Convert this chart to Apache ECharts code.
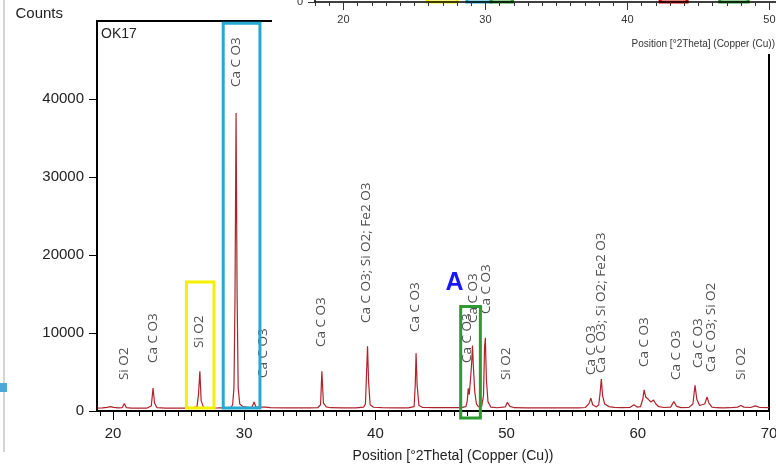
<!DOCTYPE html>
<html><head><meta charset="utf-8">
<script src="https://cdn.jsdelivr.net/npm/echarts@6/dist/echarts.min.js"></script>
<style>html,body{margin:0;padding:0;background:#fff}#c{width:776px;height:465px}</style>
</head><body><div id="c"></div>
<script>
// ---- pattern data (2Theta, Counts) ----
const twoTheta = [18.8,19.2,19.55,19.8,20.05,20.4,20.7,20.86,21.02,21.4,22.0,22.6,22.92,23.05,23.17,23.35,24.0,25.0,26.0,26.4,26.52,26.62,26.72,26.9,27.5,28.0,28.6,29.0,29.12,29.22,29.3,29.38,29.46,29.54,29.66,29.9,30.3,30.6,30.75,30.9,31.3,31.42,31.6,32.0,33.0,34.0,35.0,35.6,35.82,35.92,36.04,36.25,36.6,37.5,38.5,39.1,39.24,39.32,39.4,39.48,39.6,39.85,40.5,41.5,42.5,42.95,43.04,43.1,43.18,43.32,43.6,44.5,45.5,46.5,46.9,47.0,47.08,47.15,47.26,47.33,47.4,47.47,47.57,47.7,47.85,48.1,48.24,48.32,48.38,48.46,48.58,48.8,49.3,49.9,50.05,50.25,50.6,51.5,52.5,53.5,54.5,55.5,56.0,56.28,56.42,56.56,56.85,57.02,57.12,57.22,57.32,57.48,57.8,58.2,58.8,59.4,59.7,59.95,60.2,60.38,60.48,60.6,60.8,61.0,61.2,61.38,61.6,62.0,62.5,62.75,62.95,63.3,63.9,64.2,64.36,64.5,64.7,65.1,65.28,65.42,65.65,66.0,66.5,67.0,67.6,67.85,68.1,68.6,68.95,69.3,70.0];
const counts = [380,400,470,560,460,390,420,950,430,380,370,380,650,2950,1000,430,380,370,380,520,2200,5100,1300,460,380,390,410,470,800,3000,14600,38200,14600,3000,900,560,460,480,1150,520,500,750,500,430,400,390,400,420,800,5100,1000,520,420,400,410,500,900,4600,8300,3800,800,480,420,400,410,550,3500,7400,3300,700,450,420,420,440,560,1300,2900,2100,4300,6000,8400,5600,2500,900,560,600,2000,8200,9400,4000,1200,500,420,520,1100,600,420,400,400,390,400,400,450,950,1650,800,520,800,2200,4100,1900,900,560,460,420,450,800,500,550,1500,2700,1800,1500,1150,1400,900,550,450,500,1200,600,430,460,900,3300,1500,700,900,1800,1000,500,420,400,420,500,700,500,450,650,450,420];

// ---- phase labels ----
const peakLabelText = ["Si O2","Ca C O3","Si O2","Ca C O3","Ca C O3","Ca C O3","Ca C O3; Si O2; Fe2 O3","Ca C O3","Ca C O3","Ca C O3","Ca C O3","Si O2","Ca C O3","Ca C O3; Si O2; Fe2 O3","Ca C O3","Ca C O3","Ca C O3","Ca C O3; Si O2","Si O2"];
const peakLabelTheta = [20.84,23.04,26.55,29.36,31.45,35.83,39.33,43.06,47.02,47.47,48.46,49.98,56.45,57.21,60.49,62.92,64.6,65.59,67.87];
const peakLabelCounts = [3970,6150,8080,41540,4230,8200,11280,10130,6150,11280,12440,3970,4600,4870,5640,3970,5510,5000,3970];

// ---- axis ticks ----
const xMajorTicks = [20,30,40,50,60,70];
const xMinorTicks = [19,20,21,22,23,24,25,26,27,28,29,30,31,32,33,34,35,36,37,38,39,40,41,42,43,44,45,46,47,48,49,50,51,52,53,54,55,56,57,58,59,60,61,62,63,64,65,66,67,68,69,70];
const insetMajorTicks = [20,30,40,50];
const insetMinorTicks = [18,19,20,21,22,23,24,25,26,27,28,29,30,31,32,33,34,35,36,37,38,39,40,41,42,43,44,45,46,47,48,49,50];

// ---- highlight boxes (main chart) ----
const boxTheta0 = [25.6, 28.4, 46.5];
const boxTheta1 = [27.7, 31.2, 48.0];
const boxCounts0 = [380, 380, -900];
const boxCounts1 = [16550, 49700, 13400];
const boxColors = ['#f5f000', '#25a9d3', '#2e9a32'];
// ---- highlight boxes (overview strip at top) ----
const insetBoxTheta0 = [25.9, 28.7, 30.4, 42.3, 46.5];
const insetBoxTheta1 = [28.0, 30.4, 31.9, 44.2, 48.5];
const insetBoxColors = ['#f5f000', '#25a9d3', '#2e9a32', '#d60000', '#2e9a32'];

const markerA = {text: 'A', theta: 46.03, counts: 16400};

const AX = 'Liberation Sans, Arial, sans-serif';
const lineData = twoTheta.map((t, i) => [t, counts[i]]);
const labelData = peakLabelTheta.map((t, i) => [t, peakLabelCounts[i]]);
const boxData = boxTheta0.map((t, i) => [t, boxTheta1[i], boxCounts0[i], boxCounts1[i]]);
const insetBoxData = insetBoxTheta0.map((t, i) => [t, insetBoxTheta1[i], 0, 40000]);

function boxRenderer(colors) {
  return function (params, api) {
    const p0 = api.coord([api.value(0), api.value(3)]);
    const p1 = api.coord([api.value(1), api.value(2)]);
    return {type: 'rect', shape: {x: p0[0], y: p0[1], width: p1[0] - p0[0], height: p1[1] - p0[1]},
      style: {fill: 'none', stroke: colors[params.dataIndex], lineWidth: 3}};
  };
}
const plain = v => String(v);

const chart = echarts.init(document.getElementById('c'), null, {renderer: 'canvas'});
chart.setOption({
  animation: false,
  backgroundColor: '#fff',
  title: {text: 'OK17', left: 96, top: 22, textStyle: {fontFamily: AX, fontSize: 14, fontWeight: 'normal', color: '#222'}},
  grid: [
    {left: 97, right: 7, top: 21, bottom: 54, show: true, borderColor: '#000', borderWidth: 2, backgroundColor: 'transparent', outerBoundsMode: 'none', containLabel: false},
    {left: 315, right: 0, top: -100, height: 102, outerBoundsMode: 'none', containLabel: false}
  ],
  xAxis: [
    {type: 'value', gridIndex: 0, position: 'bottom', min: 18.78, max: 70,
     name: 'Position [°2Theta] (Copper (Cu))', nameLocation: 'middle', nameGap: 38,
     nameTextStyle: {fontFamily: AX, fontSize: 14, color: '#222', padding: [0, 0, 0, 40]},
     axisLine: {lineStyle: {color: '#000', width: 2}},
     axisTick: {customValues: xMinorTicks, length: 5, lineStyle: {color: '#000'}},
     axisLabel: {customValues: xMajorTicks, formatter: plain, fontFamily: AX, fontSize: 15, color: '#222', margin: 15},
     splitLine: {show: false}},
    {type: 'value', gridIndex: 0, position: 'bottom', min: 18.78, max: 70,
     axisLine: {show: false},
     axisTick: {customValues: xMajorTicks, length: 9, lineStyle: {color: '#000'}},
     axisLabel: {show: false}, splitLine: {show: false}},
    {type: 'value', gridIndex: 1, position: 'bottom', min: 18, max: 50.46, z: 60,
     axisLine: {lineStyle: {color: '#000', width: 1.5}},
     axisTick: {customValues: insetMinorTicks, length: 4, lineStyle: {color: '#333'}},
     axisLabel: {customValues: insetMajorTicks, formatter: plain, fontFamily: AX, fontSize: 11, color: '#333', margin: 12},
     splitLine: {show: false}},
    {type: 'value', gridIndex: 1, position: 'bottom', min: 18, max: 50.46, z: 60,
     axisLine: {show: false},
     axisTick: {customValues: insetMajorTicks, length: 8, lineStyle: {color: '#333'}},
     axisLabel: {show: false}, splitLine: {show: false}}
  ],
  yAxis: [
    {type: 'value', gridIndex: 0, position: 'left', min: 0, max: 50000, interval: 10000,
     name: 'Counts', nameLocation: 'end', nameGap: 7,
     nameTextStyle: {fontFamily: AX, fontSize: 15, color: '#222', align: 'right', verticalAlign: 'middle', padding: [0, 34, 0, 0]},
     axisLine: {lineStyle: {color: '#000', width: 2}},
     axisTick: {length: 8, lineStyle: {color: '#000'}},
     axisLabel: {showMaxLabel: false, formatter: plain, fontFamily: AX, fontSize: 15, color: '#222', margin: 13},
     splitLine: {show: false}},
    {type: 'value', gridIndex: 1, position: 'left', min: 0, max: 50000, interval: 10000, z: 60,
     axisLine: {lineStyle: {color: '#000', width: 1.5}},
     axisTick: {length: 7, lineStyle: {color: '#333'}},
     axisLabel: {formatter: plain, fontFamily: AX, fontSize: 11, color: '#333', margin: 12},
     splitLine: {show: false}}
  ],
  graphic: [
    {type: 'rect', z: 50, shape: {x: 272, y: 0, width: 504, height: 54}, style: {fill: '#fff'}},
    {type: 'text', z: 61, style: {text: 'Position [°2Theta] (Copper (Cu))', x: 775, y: 44, align: 'right', verticalAlign: 'middle', font: '10px Liberation Sans, Arial, sans-serif', fill: '#333'}},
    {type: 'line', z: 61, shape: {x1: 4, y1: 0, x2: 4, y2: 452}, style: {stroke: '#d4d4d4', lineWidth: 2}},
    {type: 'rect', z: 61, shape: {x: 0, y: 383, width: 7, height: 9}, style: {fill: '#4aa8dc'}}
  ],
  series: [
    {type: 'line', name: 'OK17', xAxisIndex: 0, yAxisIndex: 0, data: lineData, showSymbol: false, symbol: 'none',
     lineStyle: {color: '#b0222a', width: 1.2}, silent: true, z: 3,
     markPoint: {symbol: 'circle', symbolSize: 0, silent: true,
       label: {show: true, position: 'inside', formatter: markerA.text, fontFamily: AX, fontSize: 25, fontWeight: 'bold', color: '#1616ff'},
       data: [{coord: [markerA.theta, markerA.counts]}]}},
    {type: 'scatter', xAxisIndex: 0, yAxisIndex: 0, data: labelData, symbolSize: 0, silent: true, z: 4,
     label: {show: true, position: 'inside', rotate: 90, align: 'left', verticalAlign: 'middle',
       formatter: p => peakLabelText[p.dataIndex], fontFamily: 'Open Sans, sans-serif', fontSize: 13.5, color: '#222'}},
    {type: 'custom', xAxisIndex: 0, yAxisIndex: 0, data: boxData, renderItem: boxRenderer(boxColors), silent: true, z: 5, clip: false},
    {type: 'custom', xAxisIndex: 2, yAxisIndex: 1, data: insetBoxData, renderItem: boxRenderer(insetBoxColors), silent: true, z: 60, clip: false}
  ]
});
</script></body></html>
